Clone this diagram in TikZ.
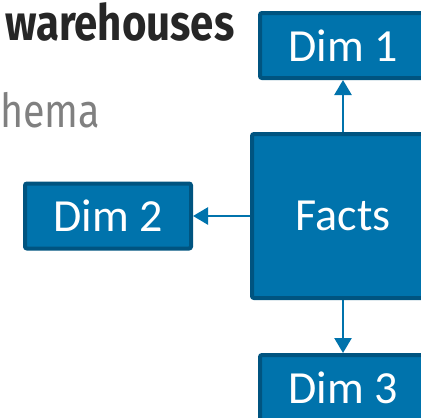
\documentclass[tikz,border=0pt]{standalone}
\usepackage{fontspec}
\setmainfont{Carlito}
\newfontfamily\headfont[FakeStretch=0.84]{Fira Sans}
\usetikzlibrary{positioning,arrows.meta}
\definecolor{boxblue}{RGB}{0,115,172}
\definecolor{boxedge}{RGB}{0,84,128}
\definecolor{headgray}{RGB}{38,38,38}
\definecolor{subgray}{RGB}{128,128,128}

\begin{document}
\begin{tikzpicture}[x=1pt,y=-1pt,
    dimbox/.style = {draw=boxedge, fill=boxblue, line width=4pt, rounded corners=2pt, text=white,
      font=\fontsize{46}{50}\selectfont, minimum width=166pt, minimum height=65pt, inner sep=0pt},
    factbox/.style = {dimbox, minimum width=182pt, minimum height=164pt},
    link/.style = {boxblue, line width=2.5pt, -{Triangle[length=15pt,width=17pt]}}]
  \useasboundingbox (0,0) rectangle (421,418);
  \clip (0,0) rectangle (421,418);
  % slide heading, cut by the crop
  \node [anchor=base west, inner sep=0pt, text=headgray, font=\headfont\bfseries\fontsize{50}{54}\selectfont] (title) at (5,40) {warehouses};
  \node [anchor=base west, inner sep=0pt, text=subgray, font=\headfont\fontsize{47}{52}\selectfont] (subtitle) at (0,127) {hema};
  % star
  \node [factbox] (facts) at (343,216) {Facts};
  \node [dimbox] (dimone) at (343,45.5) {Dim 1};
  \node [dimbox] (dimtwo) at (108,216) {Dim 2};
  \node [dimbox] (dimthree) at (343,387.5) {Dim 3};
  \draw [link] (facts) -- (dimone);
  \draw [link] (facts) -- (dimtwo);
  \draw [link] (facts) -- (dimthree);
\end{tikzpicture}
\end{document}
